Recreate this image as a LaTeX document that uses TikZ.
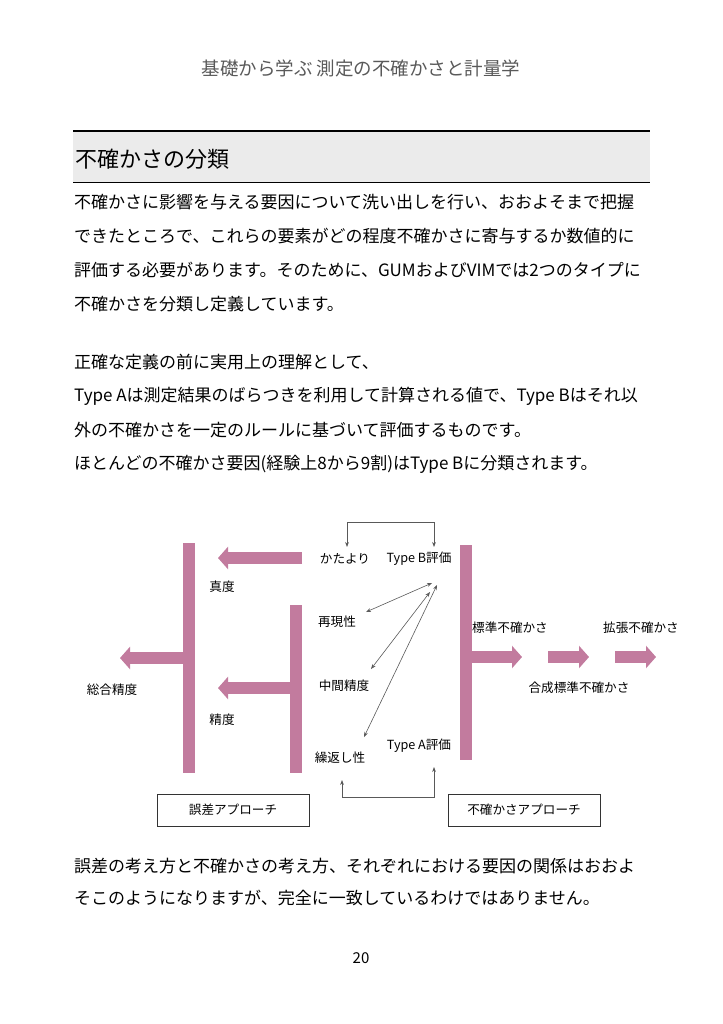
\documentclass[tikz,border=0pt]{standalone}
\usepackage{fontspec}
\setmainfont{Noto Sans CJK JP}
\usetikzlibrary{arrows.meta}
\definecolor{pk}{HTML}{C27B9E}
\tikzset{
 bar/.style={fill=pk,draw=none},
 fat/.style={pk,line width=12pt,-{Triangle[length=10pt,width=22pt]}},
 thin/.style={draw=gray!70!black,line width=0.6pt,{Stealth[length=5pt]}-{Stealth[length=5pt]}},
 lbl/.style={font=\fontsize{12.6}{14}\selectfont,inner sep=0pt},
 body/.style={font=\fontsize{17}{20}\selectfont,anchor=west,inner sep=0pt},
 apbox/.style={draw=black!80,line width=0.7pt,minimum width=152pt,minimum height=32pt,font=\fontsize{12.6}{14}\selectfont}
}
\begin{document}
\begin{tikzpicture}[x=1pt,y=-1pt]
\useasboundingbox (0,0) rectangle (722,1024);
\node[font=\fontsize{18.5}{22}\selectfont,text=black!65] (hdr) at (361,68) {基礎から学ぶ 測定の不確かさと計量学};
\fill[black!8] (73,131) rectangle (650,182);
\draw[line width=1.2pt] (73,131) -- (650,131);
\draw[line width=0.8pt] (73,182) -- (650,182);
\node[font=\fontsize{22}{26}\selectfont,anchor=west,inner sep=0pt] (ttl) at (75,159) {不確かさの分類};
\node[body] (b1) at (74,202) {不確かさに影響を与える要因について洗い出しを行い、おおよそまで把握};
\node[body] (b2) at (74,236) {できたところで、これらの要素がどの程度不確かさに寄与するか数値的に};
\node[body] (b3) at (74,270) {評価する必要があります。そのために、GUMおよびVIMでは2つのタイプに};
\node[body] (b4) at (74,304) {不確かさを分類し定義しています。};
\node[body] (b5) at (74,362) {正確な定義の前に実用上の理解として、};
\node[body] (b6) at (74,396) {Type Aは測定結果のばらつきを利用して計算される値で、Type Bはそれ以};
\node[body] (b7) at (74,430) {外の不確かさを一定のルールに基づいて評価するものです。};
\node[body] (b8) at (74,464) {ほとんどの不確かさ要因(経験上8から9割)はType Bに分類されます。};
% bars
\fill[bar] (183,543) rectangle (195,773);
\fill[bar] (290,605) rectangle (302,773);
\fill[bar] (460,545) rectangle (472,760);
\coordinate (a1s) at (302,558); \coordinate (a1e) at (218,558);
\coordinate (a2s) at (183,658); \coordinate (a2e) at (120,658);
\coordinate (a3s) at (290,688); \coordinate (a3e) at (218,688);
\coordinate (a4s) at (472,657); \coordinate (a4e) at (522,657);
\coordinate (a5s) at (548,657); \coordinate (a5e) at (589,657);
\coordinate (a6s) at (615,657); \coordinate (a6e) at (656,657);
\foreach \i in {1,...,6} \draw[fat] (a\i s) -- (a\i e);
% labels
\node[lbl] (kata) at (345,559) {かたより};
\node[lbl] (tb) at (419,559) {Type B評価};
\node[lbl] (shin) at (222,587) {真度};
\node[lbl] (sai) at (337,622) {再現性};
\node[lbl] (chu) at (344,686) {中間精度};
\node[lbl] (sei) at (222,720) {精度};
\node[lbl] (kuri) at (340,758) {繰返し性};
\node[lbl] (ta) at (419,746) {Type A評価};
\node[lbl] (std) at (510,628) {標準不確かさ};
\node[lbl] (ext) at (641,628) {拡張不確かさ};
\node[lbl] (gou) at (579,688) {合成標準不確かさ};
\node[lbl] (sou) at (112,690) {総合精度};
\node[apbox] (ea) at (233,810) {誤差アプローチ};
\node[apbox] (ua) at (524,810) {不確かさアプローチ};
% loops
\draw[thin] (347,547) -- (347,522) -- (434,522) -- (434,547);
\draw[thin] (342,780) -- (342,797) -- (434,797) -- (434,767);
% diagonals
\coordinate (d1a) at (432,583); \coordinate (d1b) at (366,612);
\coordinate (d2a) at (430,592); \coordinate (d2b) at (371,669);
\coordinate (d3a) at (437,585); \coordinate (d3b) at (364,737);
\foreach \i in {1,2,3} \draw[thin] (d\i a) -- (d\i b);
\node[body] (b9) at (74,866) {誤差の考え方と不確かさの考え方、それぞれにおける要因の関係はおおよ};
\node[body] (b10) at (74,898) {そこのようになりますが、完全に一致しているわけではありません。};
\node[font=\fontsize{15}{18}\selectfont] (pg) at (361,958) {20};
\end{tikzpicture}
\end{document}
